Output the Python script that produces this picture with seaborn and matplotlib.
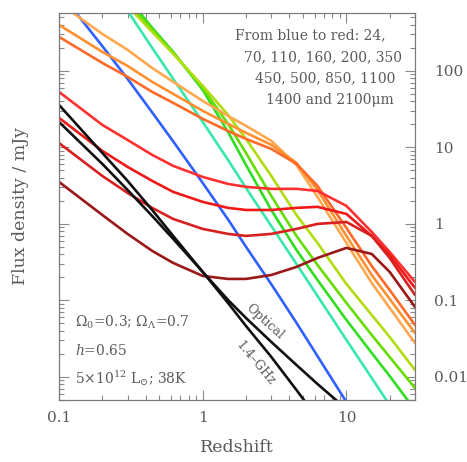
import pandas as pd
import seaborn as sns
import matplotlib.pyplot as plt
from matplotlib.ticker import FixedLocator, FixedFormatter, LogLocator, NullFormatter

# Flux density (mJy) against redshift
# at a common set of redshifts.
z_grid = [0.1, 0.2, 0.3, 0.445, 0.623, 1.0, 1.5, 2.0, 3.0, 4.49, 6.29, 10.0, 15.0, 20.0, 30.0]

# far-IR / sub-mm bands, blue to red
z_24 = [0.1, 0.2, 0.3, 0.445, 0.623, 1.0, 1.5, 2.0, 3.0, 4.49, 10.0]
f_24 = [1097, 211, 78.6, 28.6, 12.0, 3.43, 1.145, 0.503, 0.163, 0.0511, 0.00471]

z_70 = [0.25, 0.3, 0.445, 0.623, 1.0, 1.5, 2.0, 3.0, 4.49, 6.29, 10.0, 15.0, 20.0]
f_70 = [1000, 608, 200, 78.6, 21.5, 6.86, 2.95, 0.941, 0.300, 0.1145, 0.0305, 0.0097, 0.0043]

z_110 = z_grid[2:]
f_110 = [900, 365, 177, 56.4, 15.9, 5.90, 1.52, 0.457, 0.185, 0.0556, 0.0206, 0.0103, 0.0037]

z_160 = z_grid[2:]
f_160 = [798, 344, 172, 60.0, 20.3, 8.47, 2.32, 0.697, 0.291, 0.0927, 0.0354, 0.0182, 0.00718]

z_200 = z_grid[2:]
f_200 = [707, 323, 167, 63.7, 26.6, 12.9, 4.24, 1.31, 0.564, 0.164, 0.0646, 0.0333, 0.01234]

z_350 = z_grid
f_350 = [774, 304, 188, 109, 71.8, 40.5, 25.8, 19.1, 12.2, 5.90, 2.25, 0.564, 0.169, 0.0798, 0.0278]

z_450 = z_grid
f_450 = [399, 177, 116, 71.8, 50.0, 30.0, 20.3, 15.5, 10.8, 6.27, 2.78, 0.697, 0.215, 0.1046, 0.0376]

z_500 = z_grid
f_500 = [278, 127, 83.5, 53.1, 38.2, 23.6, 16.4, 12.9, 9.56, 6.09, 3.14, 0.886, 0.282, 0.137, 0.0478]

z_850 = z_grid
f_850 = [53.1, 19.7, 12.5, 7.98, 5.73, 4.11, 3.33, 3.05, 2.87, 2.87, 2.70, 1.72, 0.786, 0.430, 0.174]

z_1100 = z_grid
f_1100 = [24.3, 9.0, 5.56, 3.65, 2.62, 1.94, 1.62, 1.52, 1.52, 1.62, 1.67, 1.35, 0.697, 0.393, 0.146]

z_1400 = z_grid
f_1400 = [11.4, 4.24, 2.54, 1.62, 1.16, 0.860, 0.740, 0.697, 0.740, 0.860, 1.00, 1.06, 0.697, 0.359, 0.118]

z_2100 = z_grid
f_2100 = [3.54, 1.31, 0.740, 0.444, 0.309, 0.209, 0.191, 0.191, 0.215, 0.274, 0.359, 0.486, 0.405, 0.236, 0.0822]

# optical and 1.4 GHz radio (black)
z_opt = z_grid[:12]
f_opt = [21.5, 6.09, 2.78, 1.27, 0.637, 0.236, 0.1015, 0.059, 0.0287, 0.01435, 0.0081, 0.00382]

z_radio = z_grid[:11]
f_radio = [35.9, 8.47, 3.65, 1.52, 0.697, 0.236, 0.0927, 0.0464, 0.0183, 0.00676, 0.00291]

bands = ['24', '70', '110', '160', '200', '350', '450', '500',
         '850', '1100', '1400', '2100', 'optical', 'radio']
band_z = [z_24, z_70, z_110, z_160, z_200, z_350, z_450, z_500,
          z_850, z_1100, z_1400, z_2100, z_opt, z_radio]
band_f = [f_24, f_70, f_110, f_160, f_200, f_350, f_450, f_500,
          f_850, f_1100, f_1400, f_2100, f_opt, f_radio]
colors = ['#3060ff', '#38e8a8', '#30dd20', '#66dd00', '#b0dc10', '#ffa850',
          '#ff9030', '#ff6a28', '#ff3030', '#f01818', '#d82020', '#9a1818',
          '#101010', '#101010']

rows = []
for b, zs, fs in zip(bands, band_z, band_f):
    for z, f in zip(zs, fs):
        rows.append({'band': b, 'z': z, 'flux': f})
df = pd.DataFrame(rows)

sns.set_style('ticks')
plt.rcParams['font.family'] = ['DejaVu Serif']
plt.rcParams['mathtext.fontset'] = 'dejavuserif'
grey = '#5a5a5a'

fig = plt.figure(figsize=(4.67, 4.62), dpi=100)
ax = fig.add_axes([0.1263, 0.1342, 0.7623, 0.8377])

sns.lineplot(data=df, x='z', y='flux', hue='band', hue_order=bands,
             palette=dict(zip(bands, colors)), estimator=None, sort=True,
             linewidth=1.9, legend=False, ax=ax)

ax.set_xscale('log')
ax.set_yscale('log')
ax.set_xlim(0.1, 30)
ax.set_ylim(0.005, 570)

ax.xaxis.set_major_locator(FixedLocator([0.1, 1, 10]))
ax.xaxis.set_major_formatter(FixedFormatter(['0.1', '1', '10']))
ax.yaxis.set_major_locator(FixedLocator([0.01, 0.1, 1, 10, 100]))
ax.yaxis.set_major_formatter(FixedFormatter(['0.01', '0.1', '1', '10', '100']))
for axis in (ax.xaxis, ax.yaxis):
    axis.set_minor_locator(LogLocator(base=10, subs=range(2, 10), numticks=20))
    axis.set_minor_formatter(NullFormatter())

ax.tick_params(which='both', direction='in', top=True, right=True,
               left=True, bottom=True, labelleft=False, labelright=True,
               color='#8a8a8a', width=0.8, labelcolor=grey, labelsize=11)
ax.tick_params(which='major', length=7, pad=8)
ax.tick_params(axis='y', which='major', pad=14)
ax.tick_params(which='minor', length=3.5)
for s in ax.spines.values():
    s.set_color('#7a7a7a')
    s.set_linewidth(0.9)

ax.set_xlabel('Redshift', fontsize=12.5, color=grey)
ax.set_ylabel('Flux density / mJy', fontsize=12.5, color=grey)
ax.xaxis.set_label_coords(0.5, -0.1)
ax.yaxis.set_label_coords(-0.085, 0.5)

# wavelength key, top right
key = ['From blue to red: 24,', '70, 110, 160, 200, 350',
       '450, 500, 850, 1100', '1400 and 2100\u03bcm']
key_y = [0.943, 0.886, 0.832, 0.775]
key_x = [0.918, 0.963, 0.946, 0.940]
for t, xx, yy in zip(key, key_x, key_y):
    ax.text(xx, yy, t, transform=ax.transAxes, ha='right', va='center',
            fontsize=10, color=grey)

# model parameters, bottom left
params = [r'$\Omega_0$=0.3; $\Omega_\Lambda$=0.7', r'$h$=0.65',
          r'5$\times$10$^{12}$ L$_{\odot}$; 38K']
for t, yy in zip(params, [0.202, 0.129, 0.057]):
    ax.text(0.045, yy, t, transform=ax.transAxes, ha='left', va='center',
            fontsize=10, color=grey)

ax.text(2.70, 0.0524, 'Optical', rotation=-42, ha='center', va='center',
        fontsize=9, color=grey)
ax.text(2.34, 0.0152, '1.4\u2013GHz', rotation=-50, ha='center', va='center',
        fontsize=9, color=grey)

fig.savefig('out.png', dpi=100, facecolor='white')
plt.close(fig)
